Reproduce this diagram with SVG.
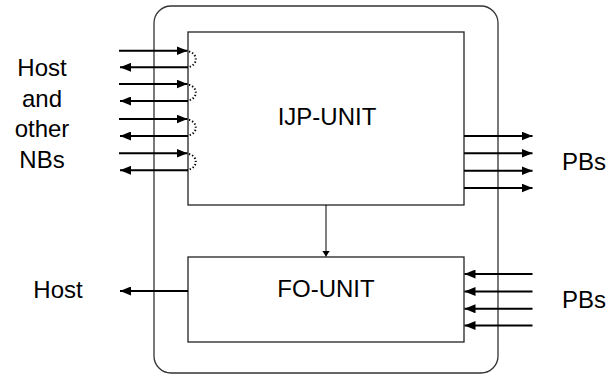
<svg xmlns="http://www.w3.org/2000/svg" width="613" height="378" viewBox="0 0 613 378">
<style>
  .frame{fill:none;stroke:#333;stroke-width:1.3}
  .box{fill:#fff;stroke:#222;stroke-width:1.3}
  .sig{fill:none;stroke:#000;stroke-width:2}
  .thin{fill:none;stroke:#000;stroke-width:1}
  .dot{fill:none;stroke:#000;stroke-width:2;stroke-dasharray:1.3 2;stroke-linecap:butt}
  text{font-family:"Liberation Sans",Arial,Helvetica,sans-serif;font-size:24px;fill:#000}
  .mid{text-anchor:middle}
</style>
<defs>
  <marker id="ah" markerUnits="userSpaceOnUse" markerWidth="12" markerHeight="9" refX="11" refY="4.5" orient="auto">
    <path d="M0,0 L11,4.5 L0,9 Z" fill="#000"/>
  </marker>
  <marker id="ahs" markerUnits="userSpaceOnUse" markerWidth="7" markerHeight="9" refX="6" refY="4.5" orient="auto">
    <path d="M0,0.5 L6,4.5 L0,8.5 Z" fill="#000"/>
  </marker>
</defs>
<rect id="outer" class="frame" x="154" y="6" width="344" height="367" rx="17" ry="17"/>
<g id="ijp-unit">
  <rect class="box" x="188" y="32" width="276" height="173"/>
  <text class="mid" x="327" y="125">IJP-UNIT</text>
</g>
<g id="fo-unit">
  <rect class="box" x="188" y="257" width="276" height="85"/>
  <text class="mid" x="326" y="297">FO-UNIT</text>
</g>
<g id="host-nbs">
  <text class="mid" x="42" y="76">Host</text>
  <text class="mid" x="42" y="107">and</text>
  <text class="mid" x="42" y="137">other</text>
  <text class="mid" x="42" y="168">NBs</text>
</g>
<g id="host-out">
  <text class="mid" x="58" y="298">Host</text>
</g>
<g id="pbs-out">
  <text x="562" y="170">PBs</text>
</g>
<g id="pbs-in">
  <text x="562" y="308">PBs</text>
</g>
<g id="connectors">
  <line class="sig" x1="119" y1="50.7" x2="187.5" y2="50.7" marker-end="url(#ah)"/>
  <line class="sig" x1="188" y1="67.3" x2="120" y2="67.3" marker-end="url(#ah)"/>
  <line class="sig" x1="119" y1="84" x2="187.5" y2="84" marker-end="url(#ah)"/>
  <line class="sig" x1="188" y1="101" x2="120" y2="101" marker-end="url(#ah)"/>
  <line class="sig" x1="119" y1="119" x2="187.5" y2="119" marker-end="url(#ah)"/>
  <line class="sig" x1="188" y1="136" x2="120" y2="136" marker-end="url(#ah)"/>
  <line class="sig" x1="119" y1="153.3" x2="187.5" y2="153.3" marker-end="url(#ah)"/>
  <line class="sig" x1="188" y1="170.3" x2="120" y2="170.3" marker-end="url(#ah)"/>
  <path class="dot" d="M189,51.5 A9,8 0 0 1 189,67"/>
  <path class="dot" d="M189,84.8 A9,8 0 0 1 189,100.3"/>
  <path class="dot" d="M189,119.8 A9,8 0 0 1 189,135.3"/>
  <path class="dot" d="M189,154 A9,8 0 0 1 189,169.5"/>
  <line class="sig" x1="464" y1="136" x2="532.5" y2="136" marker-end="url(#ah)"/>
  <line class="sig" x1="464" y1="153.3" x2="532.5" y2="153.3" marker-end="url(#ah)"/>
  <line class="sig" x1="464" y1="170.7" x2="532.5" y2="170.7" marker-end="url(#ah)"/>
  <line class="sig" x1="464" y1="188" x2="532.5" y2="188" marker-end="url(#ah)"/>
  <line class="sig" x1="532.5" y1="274" x2="464.5" y2="274" marker-end="url(#ah)"/>
  <line class="sig" x1="532.5" y1="291.5" x2="464.5" y2="291.5" marker-end="url(#ah)"/>
  <line class="sig" x1="532.5" y1="308.8" x2="464.5" y2="308.8" marker-end="url(#ah)"/>
  <line class="sig" x1="532.5" y1="325.5" x2="464.5" y2="325.5" marker-end="url(#ah)"/>
  <line class="sig" x1="188" y1="291" x2="120" y2="291" marker-end="url(#ah)"/>
  <line class="thin" x1="326" y1="205" x2="326" y2="256.5" marker-end="url(#ahs)"/>
</g>
</svg>
